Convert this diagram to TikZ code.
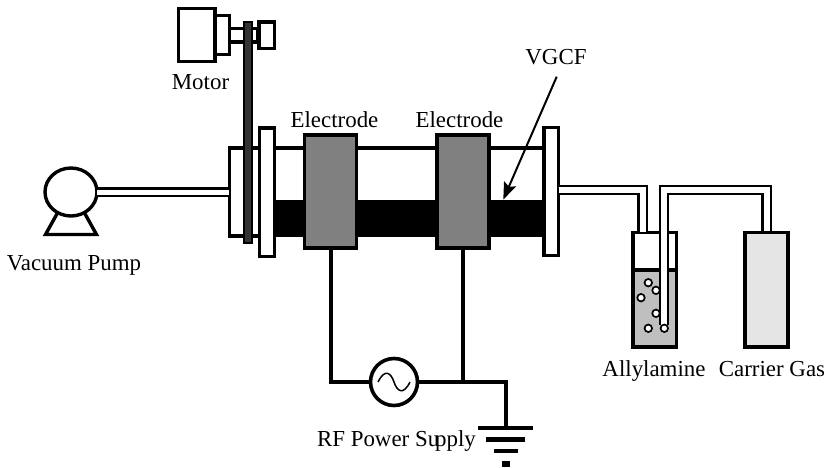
\documentclass[tikz,border=0pt]{standalone}
\usepackage{fontspec}
\setmainfont{Liberation Serif}
\usetikzlibrary{arrows.meta,shapes.geometric}
\newcommand{\rectnode}[6]{%
  \pgfmathsetmacro{\rcx}{(#3+#5)/2}\pgfmathsetmacro{\rcy}{(#4+#6)/2}%
  \pgfmathsetmacro{\rw}{#5-#3}\pgfmathsetmacro{\rh}{#6-#4}%
  \node[#2,minimum width=\rw pt,minimum height=\rh pt] (#1) at (\rcx,\rcy) {};}
\tikzset{
  part/.style={draw=black,line width=3.3pt,fill=white,rectangle,inner sep=0pt,outer sep=0pt},
  elec/.style={part,line width=3.7pt,fill=black!50},
  wire/.style={line width=4pt,line cap=butt,line join=miter},
  pipe/.style={line width=2.4pt,double=white,double distance=6pt,line join=miter},
  vacpipe/.style={line width=2.6pt,double=white,double distance=5pt},
  bubble/.style={circle,draw=black,fill=white,line width=1.7pt,minimum size=7.5pt,inner sep=0pt},
  gbar/.style={fill=black,rectangle,inner sep=0pt,outer sep=0pt},
  lab/.style={font=\fontsize{22.9pt}{25pt}\selectfont,anchor=base,inner sep=0pt},
}
\begin{document}
\begin{tikzpicture}[x=1pt,y=-1pt]
\useasboundingbox (0,0) rectangle (828,467);
% motor
\rectnode{shaft}{part}{229}{28.5}{258}{42}
\rectnode{motor}{part}{178.5}{8.5}{215}{61.5}
\rectnode{gear}{part}{215}{15.5}{229.5}{54.5}
\rectnode{pulley}{part}{259}{22}{274.3}{48.5}
% reactor
\rectnode{vgcf}{gbar}{272}{199.5}{546}{237}
\coordinate (tubeL) at (272,148);
\coordinate (tubeR) at (546,148);
\draw[line width=3.8pt] (tubeL) -- (tubeR);
\rectnode{block}{part}{229.3}{148}{260}{236}
% vacuum pump
\coordinate (footA) at (58,212);
\coordinate (footB) at (84,212);
\coordinate (footC) at (96.5,234.5);
\coordinate (footD) at (45.5,234.5);
\draw[line width=3.4pt,line join=miter] (footA) -- (footD) -- (footC) -- (footB);
\node[ellipse,draw=black,line width=3.4pt,fill=white,minimum width=52pt,minimum height=48pt,inner sep=0pt,outer sep=0pt] (pump) at (71,192) {};
\draw[vacpipe] (pump.east) -- (block.west);
% belt and flanges
\rectnode{belt}{draw=black,fill=black!80,line width=2pt,rectangle,inner sep=0pt,outer sep=0pt}{244.3}{21.7}{251.7}{243}
\rectnode{flangeL}{part}{259.3}{128}{274.3}{256.5}
\rectnode{flangeR}{part}{544}{127.5}{558.5}{255.2}
\rectnode{elA}{elec}{304.5}{135}{356.5}{248}
\rectnode{elB}{elec}{437}{135}{489}{248}
% wires
\node[circle,draw=black,line width=3.6pt,fill=white,minimum size=47pt,inner sep=0pt,outer sep=0pt] (src) at (394,382) {};
\draw[line width=1.5pt] ([xshift=-16pt]src.center) .. controls ([xshift=-9pt,yshift=14pt]src.center) and ([xshift=-3pt,yshift=9pt]src.center) .. (src.center) .. controls ([xshift=3pt,yshift=-9pt]src.center) and ([xshift=9pt,yshift=-14pt]src.center) .. ([xshift=16pt]src.center);
\coordinate (gndTop) at (506,426);
\coordinate (wireA) at (330.5,249);
\coordinate (wireB) at (463,249);
\draw[wire] (wireA) |- (src.west);
\draw[wire] (wireB) -- (wireB |- src.east);
\draw[wire] (src.east) -| (gndTop);
\rectnode{gndA}{gbar}{478}{425.5}{533}{430}
\rectnode{gndB}{gbar}{486}{437}{525}{441.5}
\rectnode{gndC}{gbar}{494}{448.5}{518}{453}
\rectnode{gndD}{gbar}{502}{461}{510}{467}
% gas feed
\rectnode{vessel}{part}{633}{232.5}{676.3}{347}
\rectnode{liquid}{part,fill=black!25}{633}{270}{676.3}{347}
\rectnode{carrier}{part,fill=black!10}{745}{232.5}{788}{347}
\coordinate (inA) at (642.5,232);
\coordinate (legEnd) at (664,325);
\coordinate (outB) at (766.5,231);
\draw[pipe] (flangeR.east |- 0,190) -| (inA);
\draw[pipe] (outB) |- (664,190) -- (legEnd);
\node[bubble] (b1) at (648.3,282.7) {};
\node[bubble] (b2) at (656,290.3) {};
\node[bubble] (b3) at (641,297.7) {};
\node[bubble] (b4) at (656,313.3) {};
\node[bubble] (b5) at (648.3,328.3) {};
\node[bubble] (b6) at (664.3,328.3) {};
% labels
\node[lab] (tMotor) at (200.5,89) {Motor};
\node[lab] (tEl1) at (334.5,127) {Electrode};
\node[lab] (tEl2) at (459.5,127) {Electrode};
\node[lab] (tVGCF) at (556,64) {VGCF};
\node[lab] (tPump) at (74,270) {Vacuum Pump};
\node[lab] (tAlly) at (654,376) {Allylamine};
\node[lab] (tGas) at (772,376) {Carrier Gas};
\node[lab] (tRF) at (396.5,446) {RF Power Su\kern-4pt pply};
\coordinate (arrowTip) at (503.3,199.5);
\coordinate (arrowTail) at (556.7,76.7);
\draw[line width=2pt,-{Stealth[length=17pt,width=13pt,inset=3pt]}] (arrowTail) -- (arrowTip);
\end{tikzpicture}
\end{document}
